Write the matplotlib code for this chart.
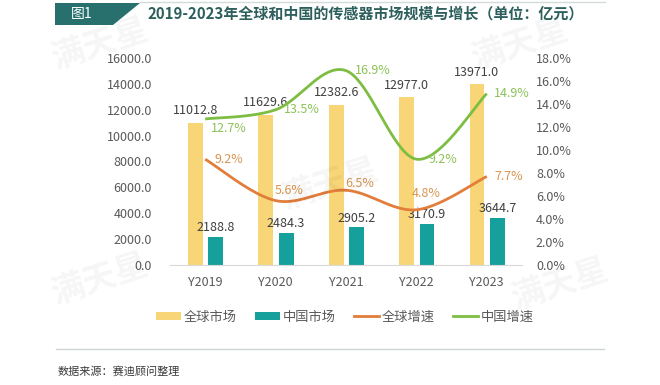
import numpy as np
import matplotlib
matplotlib.use('Agg')
import matplotlib.pyplot as plt
from matplotlib.patches import Polygon, Patch
from matplotlib.lines import Line2D

plt.rcParams['font.family'] = ['Noto Sans CJK SC', 'DejaVu Sans']

years = ['Y2019', 'Y2020', 'Y2021', 'Y2022', 'Y2023']
global_market = [11012.8, 11629.6, 12382.6, 12977.0, 13971.0]
china_market = [2188.8, 2484.3, 2905.2, 3170.9, 3644.7]
global_growth = [9.2, 5.6, 6.5, 4.8, 7.7]
china_growth = [12.7, 13.5, 16.9, 9.2, 14.9]

c_yellow = '#F8D678'
c_teal = '#16A09B'
c_orange = '#E27D3A'
c_green = '#7DBE42'
c_text = '#404040'

W, H = 660, 385
fig = plt.figure(figsize=(6.6, 3.85), dpi=100)


def fx(px):
    return px / W


def fy(py):
    return 1 - py / H


def smooth(xs, ys, n=40):
    # excel style smoothed line: cubic bezier through each point
    xs = np.asarray(xs, float)
    ys = np.asarray(ys, float)
    px = np.concatenate([[xs[0]], xs, [xs[-1]]])
    py = np.concatenate([[ys[0]], ys, [ys[-1]]])
    outx, outy = [], []
    t = np.linspace(0, 1, n)
    for i in range(1, len(px) - 2):
        p0 = np.array([px[i], py[i]])
        p3 = np.array([px[i + 1], py[i + 1]])
        p1 = p0 + (np.array([px[i + 1], py[i + 1]]) - np.array([px[i - 1], py[i - 1]])) / 6
        p2 = p3 - (np.array([px[i + 2], py[i + 2]]) - np.array([px[i], py[i]])) / 6
        b = ((1 - t) ** 3)[:, None] * p0 + (3 * (1 - t) ** 2 * t)[:, None] * p1 \
            + (3 * (1 - t) * t ** 2)[:, None] * p2 + (t ** 3)[:, None] * p3
        outx.extend(b[:, 0])
        outy.extend(b[:, 1])
    return outx, outy


# watermarks
for (wx, wy) in [(100, 45), (520, 45), (100, 280), (330, 185), (560, 285)]:
    fig.text(fx(wx), fy(wy), '满天星', fontsize=24, fontweight='bold', color='#000000',
             alpha=0.04, rotation=18, ha='center', va='center')

# title bar
fig.add_artist(Polygon([(fx(55), fy(3)), (fx(140), fy(3)), (fx(113), fy(25)), (fx(55), fy(25))],
                       closed=True, transform=fig.transFigure, facecolor='#27706E', edgecolor='none'))
fig.add_artist(Line2D([fx(140), fx(605)], [fy(2), fy(2)], transform=fig.transFigure,
                      color='#D5DADA', lw=1))
fig.text(fx(82), fy(14), '图1', color='white', fontsize=10, ha='center', va='center')
fig.text(fx(148), fy(14), '2019-2023年全球和中国的传感器市场规模与增长（单位：亿元）',
         color='#2D5F5D', fontsize=10.8, fontweight='bold', ha='left', va='center')

ax = fig.add_axes([fx(170), fy(265), fx(522) - fx(170), fy(58) - fy(265)])
x = np.arange(len(years))
ax.bar(x - 0.14, global_market, width=0.21, color=c_yellow, zorder=2)
ax.bar(x + 0.15, china_market, width=0.21, color=c_teal, zorder=2)
ax.set_xlim(-0.5, len(years) - 0.5)
ax.set_ylim(0, 16000)
ax.set_yticks(np.arange(0, 16001, 2000))
ax.set_yticklabels([f'{v:.1f}' for v in np.arange(0, 16001, 2000)])
ax.set_xticks(x)
ax.set_xticklabels(years)
for s in ['top', 'right', 'left']:
    ax.spines[s].set_visible(False)
ax.spines['bottom'].set_color('#D9D9D9')
ax.tick_params(axis='y', length=0, labelsize=9, colors='#595959', pad=13)
ax.tick_params(axis='x', length=0, labelsize=9, colors='#595959', pad=8)

for i, v in enumerate(global_market):
    ax.annotate(f'{v:.1f}', (x[i] - 0.14, v), xytext=(0, 4), textcoords='offset points',
                ha='center', va='bottom', fontsize=9, color=c_text)
for i, v in enumerate(china_market):
    ax.annotate(f'{v:.1f}', (x[i] + 0.15, v), xytext=(0, 2), textcoords='offset points',
                ha='center', va='bottom', fontsize=9, color=c_text)

ax2 = ax.twinx()
ax2.set_ylim(0, 18)
ax2.set_yticks(np.arange(0, 18.1, 2))
ax2.set_yticklabels([f'{v:.1f}%' for v in np.arange(0, 18.1, 2)])
for s in ax2.spines.values():
    s.set_visible(False)
ax2.tick_params(axis='y', length=0, labelsize=9, colors='#595959', pad=10)

sx, sy = smooth(x, global_growth)
ax2.plot(sx, sy, color=c_orange, lw=2, zorder=3, solid_capstyle='butt')
sx, sy = smooth(x, china_growth)
ax2.plot(sx, sy, color=c_green, lw=2, zorder=3, solid_capstyle='butt')

g_off = [(17, -7), (19, 0), (19, 0), (19, 0), (18, 0)]
for i, v in enumerate(china_growth):
    ax2.annotate(f'{v:.1f}%', (x[i], v), xytext=g_off[i], textcoords='offset points',
                 ha='center', va='center', fontsize=9, color='#8CC257')
o_off = [(17, 0), (10, 7), (10, 5), (7, 12), (16, 0)]
for i, v in enumerate(global_growth):
    ap = None
    if i == 3:
        ap = dict(arrowstyle='-', color='#A6A6A6', lw=0.8, shrinkA=4, shrinkB=2)
    ax2.annotate(f'{v:.1f}%', (x[i], v), xytext=o_off[i], textcoords='offset points',
                 ha='center', va='center', fontsize=9, color='#D99550', arrowprops=ap)

handles = [Patch(facecolor=c_yellow, edgecolor='none'),
           Patch(facecolor=c_teal, edgecolor='none'),
           Line2D([], [], color=c_orange, lw=2),
           Line2D([], [], color=c_green, lw=2)]
labels = ['全球市场', '中国市场', '全球增速', '中国增速']
fig.legend(handles, labels, loc='center', bbox_to_anchor=(fx(345), fy(317)), ncol=4,
           frameon=False, fontsize=9.5, handlelength=1.9, handleheight=0.5,
           handletextpad=0.2, columnspacing=1.4, labelcolor='#595959')

fig.add_artist(Line2D([fx(56), fx(604)], [fy(349), fy(349)], transform=fig.transFigure,
                      color='#CFD6D6', lw=1))
fig.text(fx(58), fy(371), '数据来源：赛迪顾问整理', fontsize=8, color='#3A3A3A',
         ha='left', va='center')

fig.savefig('out.png', dpi=100)
